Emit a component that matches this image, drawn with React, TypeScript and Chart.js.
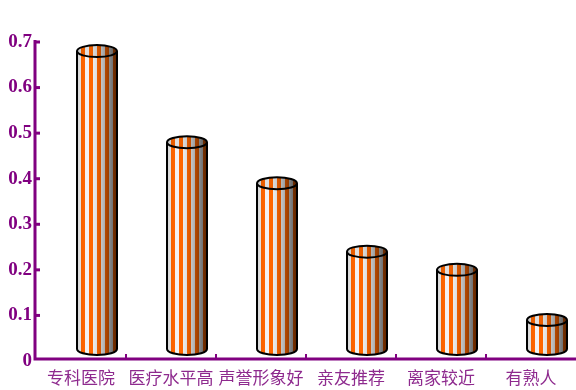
import React, { useEffect, useRef } from 'react';
import { Chart, registerables } from 'chart.js';

Chart.register(...registerables);

const categories = ['专科医院', '医疗水平高', '声誉形象好', '亲友推荐', '离家较近', '有熟人'];
const values = [0.68, 0.48, 0.39, 0.24, 0.2, 0.09];
const yMin = 0;
const yMax = 0.7;
const yStep = 0.1;

const PURPLE = '#800080';
const LABEL_PURPLE = '#8e2a8e';

const ORANGE: [number, number, number] = [255, 102, 0];
const LIGHT: [number, number, number] = [238, 238, 238];

function shadeColor(c: [number, number, number], f: number) {
  const r = Math.max(0, Math.min(255, Math.round(c[0] * f)));
  const g = Math.max(0, Math.min(255, Math.round(c[1] * f)));
  const b = Math.max(0, Math.min(255, Math.round(c[2] * f)));
  return `rgb(${r},${g},${b})`;
}

function drawStripes(ctx: CanvasRenderingContext2D, left: number, w: number, top: number, bottom: number, dim: number) {
  for (let i = 0; i < w; i++) {
    const t = (i + 0.5) / w;
    const light = 0.62 + 0.4 * Math.cos(Math.PI * (t - 0.28));
    const base = Math.floor(i / 4) % 2 === 0 ? LIGHT : ORANGE;
    ctx.fillStyle = shadeColor(base, light * dim);
    ctx.fillRect(left + i, top, 1, bottom - top);
  }
}

const cylinderPlugin = {
  id: 'cylinders',
  afterDatasetsDraw(chart: any) {
    const ctx: CanvasRenderingContext2D = chart.ctx;
    const meta = chart.getDatasetMeta(0);
    const depthX = 16;
    const depthY = 12;
    const w = 40;
    const rx = w / 2;
    const ry = 6;
    meta.data.forEach((el: any) => {
      const p = el.getProps(['x', 'y', 'base'], true);
      const cx = p.x + depthX;
      const topY = p.y;
      const botY = p.base - depthY;
      const left = cx - rx;
      ctx.save();
      ctx.beginPath();
      ctx.moveTo(left, topY);
      ctx.lineTo(left, botY);
      ctx.ellipse(cx, botY, rx, ry, 0, Math.PI, 0, true);
      ctx.lineTo(cx + rx, topY);
      ctx.closePath();
      ctx.clip();
      drawStripes(ctx, left, w, topY - ry - 2, botY + ry + 2, 1);
      ctx.restore();
      ctx.save();
      ctx.beginPath();
      ctx.ellipse(cx, topY, rx, ry, 0, 0, Math.PI * 2);
      ctx.clip();
      drawStripes(ctx, left, w, topY - ry - 2, topY + ry + 2, 0.92);
      ctx.restore();
      ctx.save();
      ctx.strokeStyle = '#000';
      ctx.lineWidth = 2;
      ctx.lineJoin = 'round';
      ctx.beginPath();
      ctx.ellipse(cx, topY, rx, ry, 0, 0, Math.PI * 2);
      ctx.stroke();
      ctx.beginPath();
      ctx.moveTo(left, topY);
      ctx.lineTo(left, botY);
      ctx.ellipse(cx, botY, rx, ry, 0, Math.PI, 0, true);
      ctx.lineTo(cx + rx, topY);
      ctx.stroke();
      ctx.restore();
    });
  },
};

const axesPlugin = {
  id: 'purpleAxes',
  beforeDatasetsDraw(chart: any) {
    const ctx: CanvasRenderingContext2D = chart.ctx;
    const { left, bottom, top } = chart.chartArea;
    const yScale = chart.scales.y;
    const xScale = chart.scales.x;
    const axisX = left - 1;
    const axisY = bottom - 2;
    ctx.save();
    ctx.strokeStyle = PURPLE;
    ctx.lineWidth = 3;
    ctx.beginPath();
    ctx.moveTo(axisX, top - 2);
    ctx.lineTo(axisX, axisY);
    ctx.lineTo(chart.width, axisY);
    ctx.stroke();
    ctx.lineWidth = 3;
    for (let v = yStep; v <= yMax + 1e-9; v += yStep) {
      const py = yScale.getPixelForValue(v);
      ctx.beginPath();
      ctx.moveTo(axisX, py);
      ctx.lineTo(axisX + 5, py);
      ctx.stroke();
    }
    ctx.lineWidth = 2;
    for (let i = 1; i < categories.length; i++) {
      const px = (xScale.getPixelForValue(i - 1) + xScale.getPixelForValue(i)) / 2;
      ctx.beginPath();
      ctx.moveTo(px, axisY);
      ctx.lineTo(px, axisY - 5);
      ctx.stroke();
    }
    ctx.restore();
  },
};

export default function App() {
  const canvasRef = useRef<HTMLCanvasElement | null>(null);

  useEffect(() => {
    const canvas = canvasRef.current;
    if (!canvas) return;
    const chart = new Chart(canvas, {
      type: 'bar',
      data: {
        labels: categories,
        datasets: [
          {
            data: values,
            backgroundColor: 'rgba(0,0,0,0)',
            borderWidth: 0,
          },
        ],
      },
      options: {
        animation: false,
        responsive: false,
        devicePixelRatio: 1,
        layout: { padding: { top: 42, right: -2, left: 0, bottom: 0 } },
        plugins: {
          legend: { display: false },
          tooltip: { enabled: false },
        },
        scales: {
          x: {
            grid: { display: false },
            border: { display: false },
            ticks: {
              color: LABEL_PURPLE,
              font: { family: '"Noto Sans CJK SC"', size: 17 },
              padding: -2,
              maxRotation: 0,
              autoSkip: false,
            },
            afterFit: (s: any) => {
              s.height = 29;
            },
          },
          y: {
            min: yMin,
            max: yMax,
            grid: { display: false },
            border: { display: false },
            ticks: {
              stepSize: yStep,
              color: PURPLE,
              font: { family: '"Liberation Serif"', size: 19, weight: 'bold' },
              padding: -4,
              callback: (v: any) => (Number(v) === 0 ? '0' : Number(v).toFixed(1)),
            },
            afterFit: (s: any) => {
              s.width = 36;
            },
          },
        },
      },
      plugins: [axesPlugin, cylinderPlugin],
    });
    return () => chart.destroy();
  }, []);

  return (
    <div style={{ position: 'fixed', left: 0, top: 0, width: 576, height: 390, background: '#fff' }}>
      <canvas ref={canvasRef} width={576} height={390} style={{ width: 576, height: 390, display: 'block' }} />
    </div>
  );
}
